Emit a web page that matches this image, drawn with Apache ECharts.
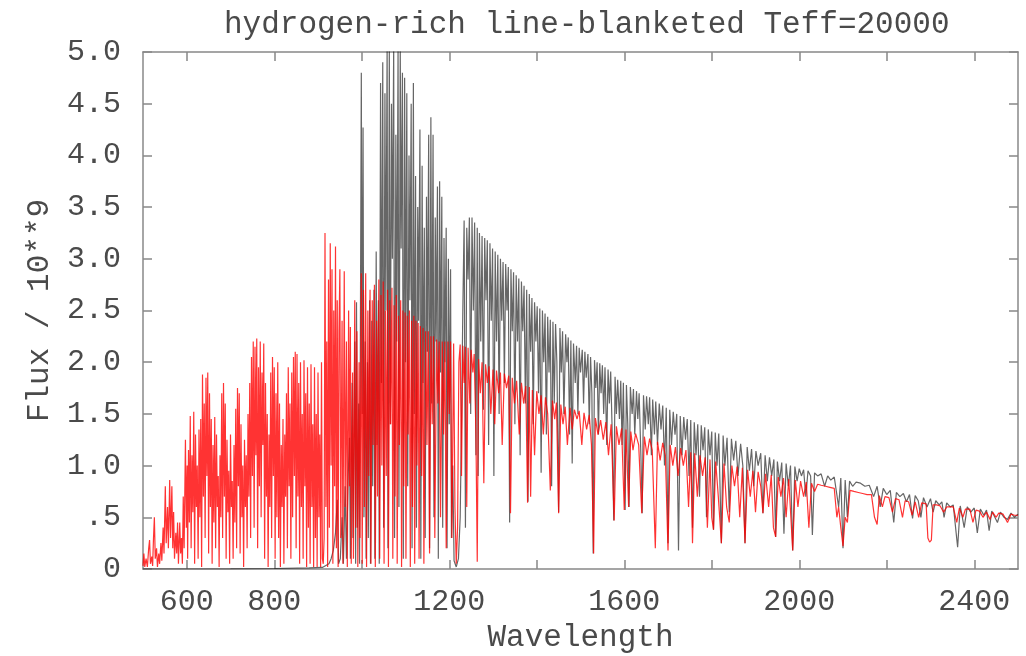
<!DOCTYPE html>
<html><head><meta charset="utf-8">
<script src="https://cdn.jsdelivr.net/npm/echarts@6/dist/echarts.min.js"></script>
<style>html,body{margin:0;padding:0;background:#fff}#chart{width:1026px;height:656px}</style>
</head><body><div id="chart"></div>
<script>
const chartTitle = 'hydrogen-rich line-blanketed Teff=20000';
const xName = 'Wavelength';
const yName = 'Flux / 10**9';
const xTickValues = [600,800,1000,1200,1400,1600,1800,2000,2200,2400];
const xLabelValues = [600,800,1200,1600,2000,2400];
const yTickLabels = ['0','.5','1.0','1.5','2.0','2.5','3.0','3.5','4.0','4.5','5.0'];

// black spectrum [wavelength, flux]
const blackSpectrum = [
[500,0],[600,0],[700,0.002],[800,0.005],[880,0.01],[910,0.015],[925,0.05],[930,0.1],[935,0.18],[940,0.35],[944,0.67],[947,0.05],[951,0.1],[955,0.5],[958,0.05],[962,0.8],[965,0.1],[969,0.9],[972,1.27],[974,0.1],[978,1.8],[980,0.3],[984,2.2],[986,0.05],[988,2.58],[990,0.4],[993,1.6],[995,0.05],
[999,4.8],[1001,1.5],[1003,4.27],[1005,0.5],[1008,2.2],[1010,0.1],[1013,2.0],[1015,0.3],[1018,2.6],[1020,0.05],[1023,2.4],[1025,0.8],[1028,2.7],[1030,0.1],[1033,3.07],[1035,1.2],[1038,2.6],[1040,0.05],
[1043,4.7],[1045,1.8],[1048,4.9],[1050,0.4],[1053,4.6],[1055,2.5],[1058,5.05],[1060,0.2],[1063,5.05],[1065,1.4],[1068,4.5],[1070,3.0],[1073,5.05],[1075,0.3],[1078,4.2],[1080,2.2],[1083,5.05],[1085,0.6],[1088,5.05],[1090,3.1],[1093,4.8],[1095,0.1],[1098,4.75],[1100,2.0],[1103,4.6],[1105,0.8],[1108,4.0],[1110,2.6],[1113,4.5],[1115,0.2],[1118,4.7],[1120,1.5],[1123,3.8],[1125,0.4],[1128,3.5],[1130,2.4],[1133,4.25],[1135,0.1],[1138,3.9],[1140,1.8],[1143,3.3],[1145,0.3],[1148,3.6],[1150,2.1],[1153,4.2],[1155,0.2],[1158,4.37],[1160,1.6],[1163,4.2],[1165,0.5],[1168,3.4],[1170,2.2],[1173,3.7],[1175,0.1],[1178,3.75],[1180,1.9],[1183,3.6],[1185,0.4],[1188,3.2],[1190,2.0],[1193,3.3],[1195,0.2],[1198,3.0],[1200,1.4],[1203,2.9],[1205,0.3],[1208,1.0],[1211,0.08],[1216,0.02],[1221,0.1],[1225,0.5],[1228,1.4],[1231,2.5],[1234,3.37],[1237,0.4],[1240,3.3],[1243,2.8],[1246,3.4],[1249,1.5],[1252,3.4],[1255,2.5],[1258,3.35],[1261,1.1],[1264,3.3],[1266,0.9],[1269,3.25],[1272,2.2],[1275,3.22],[1278,1.54],[1281,3.2],[1284,2.6],[1287,3.18],[1290,1.2],[1293,3.15],[1296,2.4],[1299,3.1],[1302,0.9],[1305,3.07],[1308,2.2],[1311,3.04],[1314,1.5],[1317,3.0],[1320,2.4],[1323,2.97],[1326,1.8],[1329,2.95],[1332,2.5],[1335,2.92],[1338,0.45],[1341,2.9],[1344,2.3],[1347,2.87],[1350,1.4],[1353,2.84],[1356,2.2],[1359,2.81],[1362,1.1],[1365,2.78],[1368,2.3],[1371,2.74],[1374,1.6],[1377,2.7],[1380,0.65],[1383,2.66],[1386,2.1],[1389,2.62],[1392,1.4],[1395,2.58],[1398,2.2],[1401,2.54],[1404,1.7],[1407,2.52],[1410,0.93],[1413,2.5],[1416,2.0],[1419,2.47],[1422,1.3],[1425,2.44],[1428,1.9],[1431,2.41],[1434,0.8],[1437,2.39],[1440,1.6],[1443,2.37],[1446,2.0],[1450,0.55],[1453,2.33],[1456,1.9],[1459,2.3],[1462,1.5],[1466,2.27],[1469,2.0],[1472,2.24],[1475,1.3],[1478,2.21],[1481,1.02],[1484,2.18],[1488,1.8],[1491,2.16],[1494,1.5],[1497,2.14],[1500,1.9],[1504,2.12],[1507,1.6],[1510,2.1],[1513,1.85],[1517,2.08],[1520,1.4],[1523,2.05],[1526,1.7],[1529,0.15],[1532,2.02],[1535,1.75],[1538,2.0],[1541,1.3],[1544,1.99],[1547,1.7],[1550,1.97],[1553,1.5],[1556,1.95],[1560,1.2],[1563,1.93],[1566,1.6],[1569,1.91],[1572,1.4],[1576,0.47],[1579,1.86],[1582,1.5],[1585,1.83],[1589,1.45],[1592,1.82],[1595,1.2],[1598,1.8],[1602,0.57],[1605,1.78],[1608,1.4],[1611,0.6],[1614,1.76],[1618,1.5],[1621,1.74],[1624,1.3],[1628,1.72],[1631,1.45],[1634,1.7],[1638,1.1],[1641,0.54],[1644,1.68],[1648,1.35],[1651,1.67],[1655,1.4],[1658,1.66],[1662,1.1],[1665,1.64],[1669,1.3],[1672,1.62],[1676,1.2],[1680,1.6],[1684,1.35],[1688,1.58],[1692,1.0],[1696,1.56],[1700,0.25],[1704,1.54],[1708,1.2],[1712,1.52],[1716,1.3],[1720,1.5],[1724,0.18],[1728,1.48],[1732,1.1],[1736,1.47],[1740,1.25],[1744,1.45],[1748,0.9],[1752,1.44],[1756,0.4],[1760,1.42],[1764,1.1],[1768,1.4],[1772,0.7],[1776,1.39],[1780,1.15],[1784,1.37],[1788,0.5],[1792,1.35],[1796,1.1],[1800,1.33],[1804,0.38],[1808,1.32],[1812,1.0],[1816,1.31],[1822,0.25],[1826,1.29],[1830,1.0],[1835,1.27],[1840,0.55],[1845,1.26],[1850,1.05],[1855,1.24],[1860,0.9],[1866,1.21],[1871,1.0],[1876,0.25],[1881,1.18],[1886,0.95],[1891,1.16],[1896,0.8],[1901,1.14],[1906,1.0],[1912,1.12],[1917,0.54],[1922,1.1],[1927,0.85],[1932,1.08],[1937,0.9],[1942,1.06],[1946,0.31],[1950,1.04],[1955,0.85],[1960,1.03],[1965,0.34],[1970,1.02],[1975,0.8],[1980,1.0],[1985,0.18],[1990,0.99],[1995,0.85],[2000,0.97],[2005,0.9],[2010,0.96],[2015,0.7],[2020,0.95],[2026,0.9],[2030,0.33],[2035,0.93],[2042,0.9],[2050,0.92],[2058,0.8],[2065,0.9],[2072,0.86],[2080,0.89],[2090,0.6],[2095,0.88],[2100,0.2],[2105,0.86],[2110,0.5],[2115,0.85],[2122,0.8],[2130,0.84],[2140,0.83],[2150,0.8],[2160,0.81],[2170,0.7],[2178,0.8],[2185,0.6],[2192,0.78],[2200,0.72],[2208,0.76],[2216,0.45],[2222,0.74],[2230,0.7],[2238,0.73],[2245,0.65],[2252,0.72],[2259,0.49],[2265,0.71],[2272,0.66],[2278,0.5],[2284,0.69],[2292,0.6],[2300,0.68],[2306,0.55],[2312,0.66],[2320,0.62],[2326,0.65],[2331,0.5],[2337,0.64],[2345,0.6],[2352,0.62],[2362,0.21],[2368,0.61],[2377,0.4],[2384,0.6],[2392,0.55],[2400,0.59],[2407,0.35],[2414,0.58],[2422,0.52],[2428,0.57],[2434,0.37],[2440,0.56],[2453,0.45],[2460,0.55],[2468,0.5],[2476,0.48],[2484,0.54],[2492,0.5],[2500,0.53]
];

// red spectrum [wavelength, flux]
const redSpectrum = [
[500,0.03],[502,0.15],[504,0.02],[507,0.1],[510,0.02],[513,0.2],[515,0.28],[517,0.05],[520,0.12],[522,0.03],[524,0.3],[526,0.5],[528,0.1],[531,0.2],[533,0.02],[536,0.15],[538,0.05],[541,0.25],[543,0.08],[546,0.4],[548,0.15],[551,0.8],[553,0.25],[556,0.6],[558,0.2],[561,0.86],[563,0.3],[566,0.8],[568,0.2],[570,0.55],[572,0.1],[575,0.35],[577,0.15],[579,0.45],[581,0.05],[584,0.45],[586,0.15],[588,0.3],[590,0.05],[592,0.7],[594,0.2],[597,1.25],[599,0.4],[601,1.0],
[602,0.1],[604,1.15],[606,0.45],[608,1.48],[610,0.2],[612,1.1],[614,0.55],[616,1.52],[618,0.05],[620,1.3],[622,0.6],[624,1.0],[626,0.1],[628,1.35],[630,0.5],[632,1.45],[634,0.02],[636,1.88],[638,0.7],[640,1.6],[642,0.3],[644,1.85],[646,0.9],[648,1.9],[650,0.15],[652,1.7],[654,0.6],[656,1.45],[658,0.05],[660,1.2],[662,0.45],[664,1.47],[666,0.2],[668,1.3],[670,0.6],[672,0.9],[674,0.02],[676,1.1],[678,0.5],[680,1.7],[682,0.3],[684,1.8],[686,0.7],[688,1.6],[690,0.1],[692,1.25],[694,0.55],[696,0.95],[698,0.05],[700,1.3],
[702,0.6],[704,0.85],[706,0.1],[708,1.2],[710,0.45],[712,1.55],[714,0.2],[716,1.75],[718,0.8],[720,1.7],[722,0.15],[724,1.4],[726,0.5],[728,1.0],[730,0.02],[732,1.25],[734,0.6],[736,1.1],[738,0.2],[740,1.5],[742,0.7],[744,1.8],[746,0.3],[748,2.05],[750,0.9],[752,2.2],[754,0.4],[756,2.15],[758,1.1],[760,2.23],[762,0.2],[764,1.95],[766,0.8],[768,2.2],[770,0.5],[772,1.9],[774,1.2],[776,2.18],[778,0.1],[780,1.8],[782,0.7],[784,1.5],[786,0.02],[788,1.3],[790,0.6],[792,1.9],[794,0.3],[796,2.05],[798,0.9],[800,1.95],[802,0.1],[804,1.7],[806,0.5],[808,2.0],[810,0.3],[812,1.6],[814,0.02],[816,1.2],[818,0.6],[820,1.45],[822,0.05],[824,1.3],[826,0.7],[828,1.7],[830,0.2],[832,1.95],[834,0.8],[836,1.6],[838,0.1],[840,1.9],[842,0.5],[844,2.05],[846,0.9],[848,2.1],[850,0.2],[852,2.08],[854,0.7],[856,1.8],[858,0.05],[860,2.0],[862,0.6],[864,1.5],[866,0.1],[868,2.02],[870,0.8],[872,1.7],[874,0.02],[876,1.95],[878,0.4],[880,1.6],[882,0.05],[884,1.98],[886,0.6],[888,1.4],[890,0.02],[892,1.95],[894,0.3],[896,1.5],[898,0.02],[900,1.9],[902,0.5],[904,1.3],[906,0.02],[908,2.0],[910,0.1],[912,0.05],
[914,0.3],[916,3.25],[918,0.6],[920,2.2],[922,0.02],[924,2.8],[926,0.4],[928,3.15],[930,1.0],[932,2.9],[934,0.05],[936,2.5],[938,0.8],[940,3.12],[942,0.2],[944,2.6],[946,0.02],[948,2.3],[950,2.9],[952,0.3],[955,2.4],[957,0.05],[960,2.88],[962,0.6],[965,2.2],[967,0.02],[970,2.5],[972,0.8],[974,2.34],[976,0.05],[979,1.9],[981,0.1],[984,2.6],[986,0.4],[989,2.3],[991,0.02],[994,2.0],[996,0.3],[999,2.86],[1001,0.05],[1004,2.7],[1006,0.6],[1009,2.86],[1011,0.02],[1014,2.5],[1016,0.9],[1019,2.7],[1021,0.05],[1024,2.6],[1026,1.2],[1029,2.75],[1031,0.02],[1034,2.4],[1036,0.7],[1039,2.8],[1041,0.1],[1044,2.65],[1046,1.0],[1049,2.78],[1051,0.05],[1054,2.5],[1056,0.9],[1059,2.7],[1061,0.02],[1064,2.6],[1066,1.4],[1069,2.72],[1071,0.1],[1074,2.55],[1076,0.7],[1079,2.65],[1081,0.05],[1084,2.45],[1086,1.2],[1089,2.6],[1091,0.02],[1094,2.5],[1096,0.8],[1099,2.48],[1101,0.1],[1104,2.45],[1106,1.3],[1109,2.5],[1111,0.02],[1114,2.4],[1116,0.6],[1119,2.45],[1121,0.05],[1124,2.4],[1126,1.0],[1129,2.38],[1131,0.1],[1134,2.35],[1137,0.9],[1140,2.33],[1142,0.05],[1146,2.3],[1149,1.2],[1152,2.3],[1155,0.15],[1158,2.25],[1161,1.4],[1164,2.25],[1167,0.3],[1171,2.22],[1174,1.6],[1177,2.2],[1180,0.5],[1184,2.2],[1187,1.3],[1190,2.2],[1193,0.2],[1197,2.2],[1200,1.5],[1203,2.2],[1206,0.3],[1210,2.18],[1213,0.6],[1216,0.05],[1219,0.4],[1222,2.0],[1225,2.17],[1228,0.9],[1231,2.16],[1234,1.8],[1237,2.15],[1240,0.6],[1243,2.14],
[1247,1.6],[1250,2.12],[1254,1.9],[1257,2.08],[1261,1.3],[1264,0.07],[1267,2.03],[1271,1.7],[1275,2.0],[1279,0.83],[1283,1.98],[1287,1.8],[1291,1.96],[1295,1.5],[1300,1.93],[1304,1.4],[1308,1.92],[1313,1.7],[1317,1.9],[1321,1.2],[1326,1.89],[1331,1.75],[1336,1.87],[1340,0.54],[1344,1.85],[1349,1.6],[1354,1.82],[1360,1.3],[1365,1.8],[1370,1.6],[1375,1.77],[1379,0.64],[1383,1.76],[1386,0.7],[1390,1.73],[1395,1.1],[1400,1.72],[1405,1.5],[1410,1.68],[1415,1.3],[1420,1.66],[1425,1.5],[1431,0.76],[1436,1.63],[1441,1.45],[1445,1.61],[1450,0.54],[1455,1.59],[1460,1.4],[1465,1.57],[1470,1.2],[1476,1.56],[1481,1.35],[1486,1.54],[1492,1.45],[1497,1.53],[1503,1.2],[1508,1.51],[1514,1.35],[1520,1.49],[1525,1.2],[1530,0.15],[1534,1.46],[1540,1.3],[1546,1.44],[1552,1.25],[1558,1.42],[1564,1.1],[1570,1.4],[1577,0.47],[1582,1.38],[1588,1.2],[1594,1.36],[1600,0.57],[1604,1.35],[1610,0.6],[1615,1.33],[1620,1.15],[1626,1.31],[1633,1.2],[1640,0.54],[1646,1.28],[1652,1.1],[1658,1.26],[1664,1.15],[1671,0.2],[1676,1.23],[1682,1.05],[1688,1.22],[1694,1.1],[1700,0.18],[1705,1.2],[1711,1.0],[1717,1.18],[1723,0.9],[1729,1.17],[1735,1.0],[1741,1.15],[1747,0.6],[1752,1.13],[1756,0.25],[1761,1.12],[1767,0.7],[1773,1.1],[1779,0.9],[1785,1.08],[1790,0.4],[1796,1.06],[1800,0.5],[1804,0.38],[1809,1.04],[1815,0.7],[1822,0.25],[1828,1.02],[1834,0.6],[1840,0.45],[1846,1.0],[1852,0.8],[1858,0.99],[1864,0.5],[1870,0.98],[1876,0.25],[1882,0.96],[1888,0.7],[1894,0.95],[1900,0.55],[1906,0.94],[1912,0.8],[1917,0.54],[1923,0.92],[1930,0.6],[1936,0.91],[1941,0.4],[1946,0.31],[1952,0.89],[1958,0.7],[1964,0.88],[1970,0.5],[1976,0.87],[1985,0.18],[1991,0.86],[1997,0.6],[2003,0.85],[2010,0.7],[2016,0.84],[2022,0.4],[2028,0.83],[2035,0.75],[2042,0.82],[2050,0.81],[2060,0.8],[2070,0.79],[2080,0.78],[2086,0.5],[2090,0.6],[2095,0.4],[2100,0.22],[2105,0.5],[2110,0.45],[2116,0.76],[2125,0.75],[2135,0.74],[2145,0.73],[2155,0.72],[2165,0.72],[2172,0.5],[2178,0.43],[2183,0.71],[2190,0.6],[2196,0.7],[2205,0.69],[2213,0.55],[2220,0.68],[2228,0.67],[2236,0.5],[2242,0.66],[2250,0.65],[2258,0.52],[2265,0.65],[2273,0.5],[2280,0.64],[2290,0.63],[2294,0.3],[2298,0.26],[2302,0.28],[2306,0.62],[2314,0.62],[2322,0.61],[2330,0.55],[2337,0.6],[2345,0.6],[2352,0.6],[2360,0.45],[2366,0.59],[2374,0.5],[2380,0.58],[2390,0.58],[2397,0.45],[2404,0.57],[2412,0.56],[2420,0.5],[2428,0.55],[2436,0.48],[2442,0.55],[2450,0.5],[2456,0.54],[2466,0.53],[2476,0.45],[2484,0.53],[2492,0.52],[2500,0.52]
];

const FONT = '"Liberation Mono", "DejaVu Sans Mono", monospace';
const TEXT = '#4a4a4a';
const AXIS = '#888';
const lineStyleAxis = { color: AXIS, width: 1.5 };

const chart = echarts.init(document.getElementById('chart'), null, { renderer: 'canvas' });
chart.setOption({
  animation: false,
  backgroundColor: '#fff',
  title: {
    text: chartTitle, left: 219, top: 4,
    textStyle: { fontFamily: FONT, fontSize: 31, fontWeight: 'normal', color: TEXT }
  },
  grid: { left: 143, right: 8, top: 52, bottom: 87, containLabel: false, outerBoundsMode: 'none' },
  xAxis: [{
    type: 'value', min: 500, max: 2500, position: 'bottom',
    name: xName, nameLocation: 'middle', nameGap: 50,
    nameTextStyle: { fontFamily: FONT, fontSize: 31, color: TEXT },
    axisLine: { show: true, onZero: false, lineStyle: lineStyleAxis },
    axisTick: { show: true, inside: true, length: 9, lineStyle: lineStyleAxis, customValues: xTickValues },
    axisLabel: { fontFamily: FONT, fontSize: 30, color: TEXT, margin: 18, customValues: xLabelValues,
      formatter: v => String(v) },
    splitLine: { show: false }
  }, {
    type: 'value', min: 500, max: 2500, position: 'top',
    axisLine: { show: true, onZero: false, lineStyle: lineStyleAxis },
    axisTick: { show: true, inside: true, length: 9, lineStyle: lineStyleAxis, customValues: xTickValues },
    axisLabel: { show: false },
    splitLine: { show: false }
  }],
  yAxis: [{
    type: 'value', min: 0, max: 5, interval: 0.5, position: 'left',
    name: yName, nameLocation: 'middle', nameGap: 88, nameRotate: 90,
    nameTextStyle: { fontFamily: FONT, fontSize: 31, color: TEXT },
    axisLine: { show: true, onZero: false, lineStyle: lineStyleAxis },
    axisTick: { show: true, inside: true, length: 9, lineStyle: lineStyleAxis },
    axisLabel: { fontFamily: FONT, fontSize: 30, color: TEXT, margin: 22,
      formatter: v => yTickLabels[Math.round(v / 0.5)] },
    splitLine: { show: false }
  }, {
    type: 'value', min: 0, max: 5, interval: 0.5, position: 'right',
    axisLine: { show: true, onZero: false, lineStyle: lineStyleAxis },
    axisTick: { show: true, inside: true, length: 9, lineStyle: lineStyleAxis },
    axisLabel: { show: false },
    splitLine: { show: false }
  }],
  series: [{
    name: 'black', type: 'line', xAxisIndex: 0, yAxisIndex: 0,
    data: blackSpectrum, showSymbol: false, symbol: 'none', silent: true,
    lineStyle: { color: '#000', width: 1.2, opacity: 0.6 }, z: 2
  }, {
    name: 'red', type: 'line', xAxisIndex: 0, yAxisIndex: 0,
    data: redSpectrum, showSymbol: false, symbol: 'none', silent: true,
    lineStyle: { color: '#ff0000', width: 1.2, opacity: 0.8 }, z: 3
  }]
});
</script>
</body></html>
